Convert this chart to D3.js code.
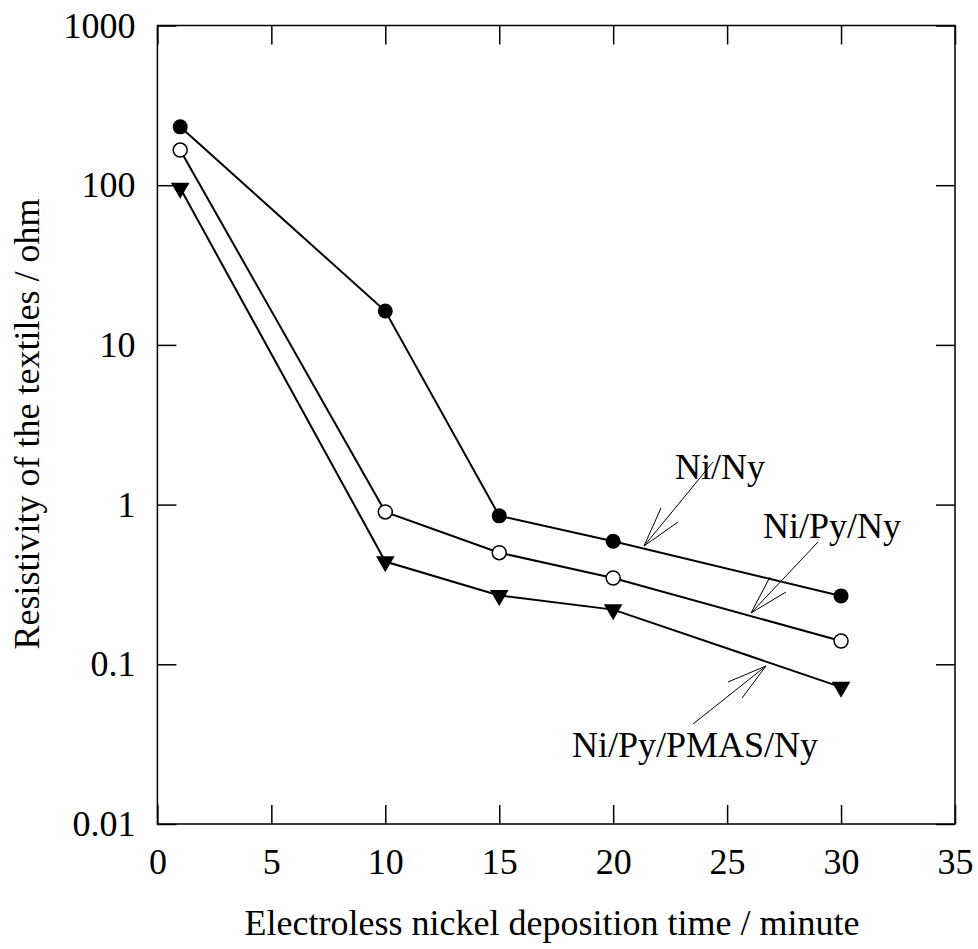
<!DOCTYPE html>
<html>
<head>
<meta charset="utf-8">
<script src="https://cdn.jsdelivr.net/npm/d3@7/dist/d3.min.js"></script>
<style>
  html, body { margin: 0; padding: 0; background: #fff; }
  text { font-family: "Liberation Serif", "Times New Roman", serif; fill: #000; }
</style>
</head>
<body>
<svg id="chart" width="978" height="949"></svg>
<script>
// ---- data ----
const times = [1, 10, 15, 20, 30];
const niNy = [232, 16.3, 0.85, 0.59, 0.268];
const niPyNy = [166, 0.90, 0.50, 0.347, 0.14];
const niPyPmasNy = [96, 0.44, 0.27, 0.22, 0.072];
const xTicks = [0, 5, 10, 15, 20, 25, 30, 35];
const yTicks = [0.01, 0.1, 1, 10, 100, 1000];
const yTickLabels = ["0.01", "0.1", "1", "10", "100", "1000"];
const seriesNames = ["Ni/Ny", "Ni/Py/Ny", "Ni/Py/PMAS/Ny"];

// ---- layout ----
const svg = d3.select("#chart");
const L = 157.4, R = 955, T = 25.5, B = 824;
const x = d3.scaleLinear().domain([0, 35]).range([L, R]);
const y = d3.scaleLog().domain([0.01, 1000]).range([B, T]);
const FS = 36;
const tickLen = 19;

// frame
svg.append("rect").attr("x", L).attr("y", T).attr("width", R - L).attr("height", B - T)
  .attr("fill", "none").attr("stroke", "#000").attr("stroke-width", 1.5);

// axes with inward ticks
const xAxisB = d3.axisBottom(x).tickValues(xTicks).tickSize(-tickLen).tickPadding(24).tickFormat(d3.format("d"));
const xAxisT = d3.axisTop(x).tickValues(xTicks).tickSize(-tickLen).tickFormat("");
const yAxisL = d3.axisLeft(y).tickValues(yTicks).tickSize(-tickLen).tickPadding(22)
  .tickFormat((d, i) => yTickLabels[i]);
const yAxisR = d3.axisRight(y).tickValues(yTicks).tickSize(-tickLen).tickFormat("");

function style(g) {
  g.select(".domain").remove();
  g.selectAll(".tick line").attr("stroke", "#000").attr("stroke-width", 1.5);
  g.selectAll(".tick text").attr("font-size", FS).attr("font-family", "Liberation Serif, serif").attr("fill", "#000");
}
svg.append("g").attr("transform", `translate(0,${B})`).call(xAxisB).call(style);
svg.append("g").attr("transform", `translate(0,${T})`).call(xAxisT).call(style);
svg.append("g").attr("transform", `translate(${L},0)`).call(yAxisL).call(style);
svg.append("g").attr("transform", `translate(${R},0)`).call(yAxisR).call(style);

// axis titles
svg.append("text").attr("x", 552).attr("y", 935).attr("text-anchor", "middle")
  .attr("font-size", FS).text("Electroless nickel deposition time / minute");
svg.append("text").attr("transform", "translate(39,424) rotate(-90)").attr("text-anchor", "middle")
  .attr("font-size", FS).text("Resistivity of the textiles / ohm");

// lines
const line = d3.line().x((d, i) => x(times[i])).y(d => y(d));
[niNy, niPyNy, niPyPmasNy].forEach(s => {
  svg.append("path").datum(s).attr("d", line).attr("fill", "none").attr("stroke", "#000").attr("stroke-width", 2);
});

// markers
const r = 7.5;
svg.selectAll(".m1").data(niNy).enter().append("circle")
  .attr("cx", (d, i) => x(times[i])).attr("cy", d => y(d)).attr("r", r).attr("fill", "#000");
svg.selectAll(".m2").data(niPyNy).enter().append("circle")
  .attr("cx", (d, i) => x(times[i])).attr("cy", d => y(d)).attr("r", r - 0.5)
  .attr("fill", "#fff").attr("stroke", "#000").attr("stroke-width", 1.5);
const tri = d3.symbol().type(d3.symbolTriangle).size(150);
svg.selectAll(".m3").data(niPyPmasNy).enter().append("path")
  .attr("d", tri)
  .attr("transform", (d, i) => `translate(${x(times[i])},${y(d)}) rotate(180)`)
  .attr("fill", "#000");

// annotations: label text + open arrow
const annots = [
  { name: seriesNames[0], tx: 720, ty: 479, x1: 713, y1: 462, x2: 644, y2: 546, a: [[661, 508], [678, 522]] },
  { name: seriesNames[1], tx: 832, ty: 538, x1: 818, y1: 542, x2: 751, y2: 613, a: [[770, 577], [786, 592]] },
  { name: seriesNames[2], tx: 695, ty: 757, x1: 693, y1: 724, x2: 766, y2: 666, a: [[728, 682], [742, 698]] }
];
annots.forEach(a => {
  svg.append("text").attr("x", a.tx).attr("y", a.ty).attr("text-anchor", "middle").attr("font-size", FS).text(a.name);
  svg.append("line").attr("x1", a.x1).attr("y1", a.y1).attr("x2", a.x2).attr("y2", a.y2)
    .attr("stroke", "#000").attr("stroke-width", 1);
  a.a.forEach(p => {
    svg.append("line").attr("x1", a.x2).attr("y1", a.y2).attr("x2", p[0]).attr("y2", p[1])
      .attr("stroke", "#000").attr("stroke-width", 1);
  });
});
</script>
</body>
</html>
